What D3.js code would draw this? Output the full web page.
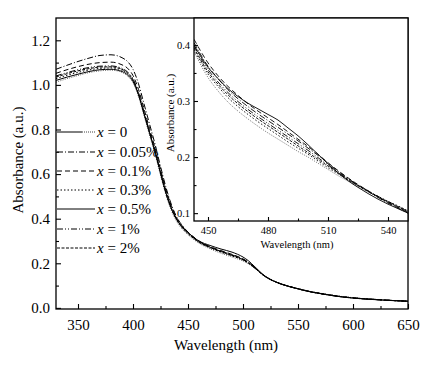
<!DOCTYPE html>
<html><head><meta charset="utf-8">
<script src="https://cdn.jsdelivr.net/npm/d3@7"></script>
<style>body{margin:0;background:#fff}svg{display:block}</style>
</head><body><svg id="c" width="430" height="365"></svg>
<script>
const seriesNames = ["x = 0","x = 0.05%","x = 0.1%","x = 0.3%","x = 0.5%","x = 1%","x = 2%"];
const wavelengths = [330,340,350,360,370,380,390,395,400,405,410,415,420,425,430,435,440,445,450,460,470,480,490,500,505,510,520,530,540,550,560,570,580,590,600,610,620,630,640,650];
const s0   = [1.012,1.028,1.042,1.055,1.063,1.066,1.056,1.040,1.010,0.948,0.862,0.775,0.690,0.595,0.505,0.435,0.385,0.352,0.328,0.290,0.265,0.245,0.228,0.210,0.197,0.180,0.140,0.116,0.099,0.087,0.075,0.066,0.058,0.051,0.046,0.041,0.038,0.035,0.032,0.030];
const s005 = [1.070,1.088,1.105,1.120,1.132,1.135,1.122,1.105,1.070,1.005,0.915,0.825,0.735,0.635,0.540,0.462,0.405,0.368,0.340,0.298,0.273,0.254,0.238,0.218,0.203,0.183,0.141,0.115,0.098,0.085,0.073,0.064,0.056,0.049,0.044,0.040,0.037,0.034,0.032,0.030];
const s01  = [1.052,1.068,1.082,1.093,1.100,1.102,1.090,1.075,1.042,0.980,0.893,0.805,0.718,0.622,0.530,0.456,0.402,0.366,0.340,0.300,0.275,0.257,0.240,0.220,0.205,0.184,0.142,0.116,0.099,0.086,0.074,0.065,0.057,0.050,0.045,0.041,0.038,0.035,0.032,0.030];
const s03  = [1.028,1.043,1.056,1.067,1.074,1.076,1.066,1.050,1.020,0.958,0.872,0.786,0.700,0.604,0.513,0.442,0.392,0.358,0.333,0.294,0.270,0.250,0.233,0.214,0.200,0.181,0.141,0.116,0.099,0.086,0.074,0.065,0.057,0.050,0.045,0.041,0.038,0.035,0.032,0.030];
const s05  = [1.020,1.035,1.048,1.060,1.068,1.070,1.060,1.045,1.015,0.955,0.870,0.785,0.700,0.605,0.515,0.445,0.395,0.362,0.338,0.300,0.280,0.264,0.250,0.228,0.211,0.188,0.143,0.116,0.099,0.085,0.073,0.064,0.056,0.049,0.044,0.040,0.037,0.034,0.032,0.030];
const s1   = [1.040,1.055,1.068,1.078,1.084,1.085,1.074,1.058,1.027,0.965,0.878,0.792,0.706,0.610,0.519,0.447,0.396,0.361,0.336,0.297,0.272,0.253,0.236,0.217,0.202,0.182,0.142,0.116,0.099,0.086,0.074,0.065,0.057,0.050,0.045,0.041,0.038,0.035,0.032,0.030];
const s2   = [1.035,1.050,1.063,1.073,1.080,1.081,1.070,1.054,1.023,0.960,0.874,0.788,0.702,0.607,0.516,0.444,0.394,0.359,0.334,0.295,0.271,0.252,0.235,0.216,0.201,0.182,0.141,0.116,0.099,0.086,0.074,0.065,0.057,0.050,0.045,0.041,0.038,0.035,0.032,0.030];

const insetWavelengths = [443,450,455,460,465,470,475,480,485,490,495,500,505,510,515,520,525,530,535,540,545,550];
const i0   = [0.388,0.342,0.318,0.298,0.282,0.268,0.255,0.243,0.232,0.221,0.210,0.200,0.189,0.178,0.167,0.157,0.147,0.138,0.129,0.120,0.112,0.104];
const i005 = [0.404,0.362,0.340,0.320,0.304,0.290,0.277,0.265,0.253,0.241,0.229,0.216,0.203,0.189,0.175,0.162,0.150,0.139,0.128,0.118,0.109,0.100];
const i01  = [0.410,0.368,0.345,0.326,0.310,0.295,0.282,0.270,0.258,0.245,0.232,0.219,0.205,0.190,0.176,0.163,0.151,0.140,0.129,0.119,0.110,0.101];
const i03  = [0.392,0.348,0.326,0.306,0.290,0.276,0.263,0.251,0.239,0.227,0.216,0.205,0.193,0.181,0.170,0.159,0.149,0.139,0.130,0.121,0.113,0.104];
const i05  = [0.400,0.360,0.340,0.322,0.308,0.296,0.286,0.276,0.266,0.252,0.238,0.222,0.205,0.188,0.172,0.158,0.146,0.135,0.125,0.116,0.108,0.100];
const i1   = [0.398,0.356,0.334,0.315,0.299,0.285,0.272,0.260,0.248,0.236,0.224,0.212,0.199,0.186,0.173,0.161,0.150,0.140,0.130,0.121,0.112,0.103];
const i2   = [0.395,0.352,0.330,0.311,0.295,0.281,0.268,0.256,0.244,0.232,0.220,0.208,0.196,0.184,0.172,0.160,0.149,0.139,0.129,0.120,0.111,0.102];

const xTicks = [350,400,450,500,550,600,650];
const yTicks = [0.0,0.2,0.4,0.6,0.8,1.0,1.2];
const insetXTicks = [450,480,510,540];
const insetYTicks = [0.1,0.2,0.3,0.4];

const mainSeries = [s0,s005,s01,s03,s05,s1,s2];
const insetSeries = [i0,i005,i01,i03,i05,i1,i2];
const dashes = ["1,1.3","6,2,1,2","5,3","1.5,2","none","6,2,1,2,1,2","3,1.5"];
const colors = ["#666","#000","#000","#000","#000","#000","#000"];

const FONT = "'Liberation Serif','Times New Roman','DejaVu Serif',serif";
const svg = d3.select("#c").attr("font-family",FONT);
const M = {l:56, t:18, r:408, b:309};
const x = d3.scaleLinear().domain([330,650]).range([M.l,M.r]);
const y = d3.scaleLinear().domain([-0.005,1.30]).range([M.b,M.t]);

svg.append("clipPath").attr("id","mc").append("rect").attr("x",M.l).attr("y",M.t).attr("width",M.r-M.l).attr("height",M.b-M.t);

const line = d3.line().curve(d3.curveMonotoneX);
const gm = svg.append("g").attr("clip-path","url(#mc)");
mainSeries.forEach((s,k)=>{
  gm.append("path").attr("d", line(wavelengths.map((w,i)=>[x(w),y(s[i])])))
    .attr("fill","none").attr("stroke",colors[k]).attr("stroke-width",1)
    .attr("stroke-dasharray",dashes[k]);
});

function styleAxis(a, fs){
  a.attr("font-family",FONT);
  a.select(".domain").remove();
  a.selectAll("line").attr("stroke","#000").attr("stroke-width",1.1);
  a.selectAll("text").attr("font-size",fs).attr("font-family",FONT).attr("fill","#000");
}
const axB = svg.append("g").attr("transform",`translate(0,${M.b})`)
  .call(d3.axisBottom(x).tickValues(xTicks).tickSize(-5).tickPadding(10).tickFormat(d3.format("d")));
const axBm = svg.append("g").attr("transform",`translate(0,${M.b})`)
  .call(d3.axisBottom(x).tickValues([375,425,475,525,575,625]).tickSize(-3).tickFormat(""));
const axL = svg.append("g").attr("transform",`translate(${M.l},0)`)
  .call(d3.axisLeft(y).tickValues(yTicks).tickSize(-5).tickPadding(6).tickFormat(d3.format(".1f")));
const axLm = svg.append("g").attr("transform",`translate(${M.l},0)`)
  .call(d3.axisLeft(y).tickValues([0.1,0.3,0.5,0.7,0.9,1.1]).tickSize(-3).tickFormat(""));
[axB,axBm,axL,axLm].forEach(a=>styleAxis(a,15));
svg.append("rect").attr("x",M.l).attr("y",M.t).attr("width",M.r-M.l).attr("height",M.b-M.t)
  .attr("fill","none").attr("stroke","#000").attr("stroke-width",1.3);

svg.append("text").attr("x",226).attr("y",350).attr("text-anchor","middle").attr("font-size",15).attr("font-family",FONT).text("Wavelength (nm)");
svg.append("text").attr("transform","translate(23,160) rotate(-90)").attr("text-anchor","middle").attr("font-size",15).attr("font-family",FONT).text("Absorbance (a.u.)");

// legend
const legY = [132,152,171,190,209,229,248];
seriesNames.forEach((n,k)=>{
  if(k===0){
    svg.append("line").attr("x1",57).attr("x2",82).attr("y1",legY[k]).attr("y2",legY[k]).attr("stroke","#000").attr("stroke-width",1);
    svg.append("line").attr("x1",82).attr("x2",95).attr("y1",legY[k]).attr("y2",legY[k]).attr("stroke","#444").attr("stroke-width",1).attr("stroke-dasharray","1,1");
  } else {
    svg.append("line").attr("x1",57).attr("x2",95).attr("y1",legY[k]).attr("y2",legY[k]).attr("stroke",colors[k]).attr("stroke-width",1).attr("stroke-dasharray",dashes[k]);
  }
  const t = svg.append("text").attr("x",97).attr("y",legY[k]+5).attr("font-size",15).attr("font-family",FONT);
  t.append("tspan").attr("font-style","italic").text("x");
  t.append("tspan").text(n.slice(1));
});

// inset
const I = {l:194, t:18, r:408, b:221};
const xi = d3.scaleLinear().domain([443,550]).range([I.l,I.r]);
const yi = d3.scaleLinear().domain([0.086,0.448]).range([I.b,I.t]);
svg.append("rect").attr("x",I.l).attr("y",I.t).attr("width",I.r-I.l).attr("height",I.b-I.t).attr("fill","#fff");
svg.append("clipPath").attr("id","ic").append("rect").attr("x",I.l).attr("y",I.t).attr("width",I.r-I.l).attr("height",I.b-I.t);
const gi = svg.append("g").attr("clip-path","url(#ic)");
insetSeries.forEach((s,k)=>{
  gi.append("path").attr("d", line(insetWavelengths.map((w,i)=>[xi(w),yi(s[i])])))
    .attr("fill","none").attr("stroke",colors[k]).attr("stroke-width",0.9)
    .attr("stroke-dasharray",dashes[k]);
});
const iaB = svg.append("g").attr("transform",`translate(0,${I.b})`)
  .call(d3.axisBottom(xi).tickValues(insetXTicks).tickSize(-4).tickPadding(6).tickFormat(d3.format("d")));
const iaBm = svg.append("g").attr("transform",`translate(0,${I.b})`)
  .call(d3.axisBottom(xi).tickValues([465,495,525]).tickSize(-2.5).tickFormat(""));
const iaL = svg.append("g").attr("transform",`translate(${I.l},0)`)
  .call(d3.axisLeft(yi).tickValues(insetYTicks).tickSize(-4).tickPadding(4).tickFormat(d3.format(".1f")));
const iaLm = svg.append("g").attr("transform",`translate(${I.l},0)`)
  .call(d3.axisLeft(yi).tickValues([0.15,0.25,0.35]).tickSize(-2.5).tickFormat(""));
[iaB,iaBm,iaL,iaLm].forEach(a=>styleAxis(a,10.5));
svg.append("rect").attr("x",I.l).attr("y",I.t).attr("width",I.r-I.l).attr("height",I.b-I.t)
  .attr("fill","none").attr("stroke","#000").attr("stroke-width",1.3);
svg.append("text").attr("x",297).attr("y",248).attr("text-anchor","middle").attr("font-size",10.5).attr("font-family",FONT).text("Wavelength (nm)");
svg.append("text").attr("transform","translate(174,113) rotate(-90)").attr("text-anchor","middle").attr("font-size",11).attr("font-family",FONT).text("Absorbance (a.u.)");
</script></body></html>
